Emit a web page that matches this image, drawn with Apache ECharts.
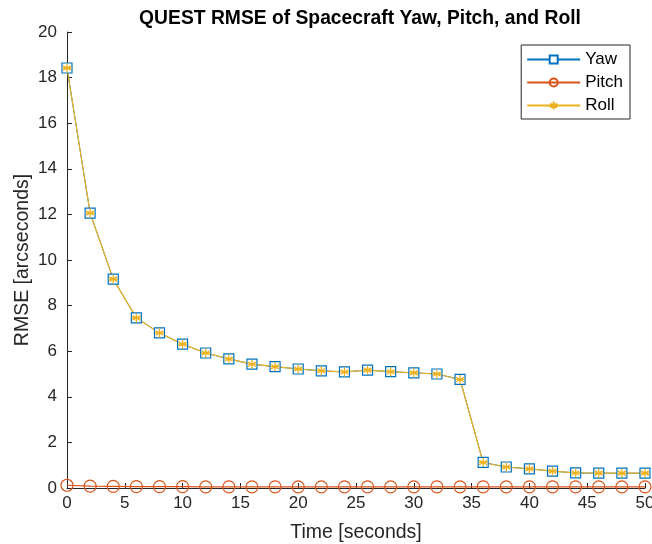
<!DOCTYPE html>
<html><head><meta charset="utf-8">
<script src="https://cdn.jsdelivr.net/npm/echarts@6/dist/echarts.min.js"></script>
<style>html,body{margin:0;padding:0;background:#fff}#c{width:652px;height:544px}</style>
</head><body><div id="c"></div>
<script>
const time = [0,2,4,6,8,10,12,14,16,18,20,22,24,26,28,30,32,34,36,38,40,42,44,46,48,50];
const yaw = [18.42,12.06,9.16,7.46,6.8,6.31,5.92,5.66,5.43,5.32,5.22,5.14,5.09,5.17,5.1,5.05,5.0,4.76,1.12,0.92,0.84,0.74,0.66,0.65,0.65,0.65];
const pitch = [0.12,0.08,0.07,0.06,0.06,0.06,0.05,0.05,0.05,0.05,0.05,0.05,0.05,0.05,0.05,0.05,0.05,0.05,0.05,0.05,0.05,0.05,0.05,0.05,0.05,0.05];
const roll = [18.42,12.06,9.16,7.46,6.8,6.31,5.92,5.66,5.43,5.32,5.22,5.14,5.09,5.17,5.1,5.05,5.0,4.76,1.12,0.92,0.84,0.74,0.66,0.65,0.65,0.65];
const xTicks = [0,5,10,15,20,25,30,35,40,45,50];
const yTicks = [0,2,4,6,8,10,12,14,16,18,20];
const names = ['Yaw','Pitch','Roll'];

const pair = (ys) => time.map((t,i)=>[t, ys[i]]);
const font = 'Liberation Sans, Arial, Helvetica, sans-serif';
const axisCol = '#262626';
const colors = ['#0072BD','#D95319','#EDB120'];
const asterisk = 'path://M0,-5L0,5M-4.33,-2.5L4.33,2.5M-4.33,2.5L4.33,-2.5M-5,0L5,0';

const chart = echarts.init(document.getElementById('c'), null, {renderer:'canvas'});
chart.setOption({
  animation:false,
  backgroundColor:'#fff',
  title:{text:'QUEST RMSE of Spacecraft Yaw, Pitch, and Roll', left:355, textAlign:'center', top:4,
    textStyle:{fontFamily:font, fontSize:19.3, fontWeight:'bold', color:'#000'}},
  grid:{left:67, right:7, top:32, bottom:56, outerBoundsMode:'none', containLabel:false},
  legend:{
    right:22, top:45, orient:'vertical', itemWidth:53, itemHeight:10, itemGap:6,
    padding:[6,7,5,5],
    borderColor:axisCol, borderWidth:1, backgroundColor:'#fff',
    textStyle:{fontFamily:font, fontSize:17, color:'#000'},
    data:names
  },
  xAxis:{type:'value', min:0, max:50, interval:5,
    name:'Time [seconds]', nameLocation:'middle', nameGap:35, nameMoveOverlap:false,
    nameTextStyle:{fontFamily:font, fontSize:19.5, color:axisCol},
    axisLine:{lineStyle:{color:axisCol}},
    axisTick:{inside:true, length:5, lineStyle:{color:axisCol}},
    axisLabel:{fontFamily:font, fontSize:17, color:axisCol, margin:7,
      formatter:(v)=> xTicks.includes(v) ? String(v) : ''},
    splitLine:{show:false}},
  yAxis:{type:'value', min:0, max:20, interval:2,
    name:'RMSE [arcseconds]', nameLocation:'middle', nameGap:34, nameMoveOverlap:false,
    nameTextStyle:{fontFamily:font, fontSize:19.5, color:axisCol},
    axisLine:{show:true, lineStyle:{color:axisCol}},
    axisTick:{show:true, inside:true, length:5, lineStyle:{color:axisCol}},
    axisLabel:{fontFamily:font, fontSize:17, color:axisCol, margin:10,
      formatter:(v)=> yTicks.includes(v) ? String(v) : ''},
    splitLine:{show:false}},
  series:[
    {name:names[0], type:'line', data:pair(yaw), symbol:'rect', symbolSize:10, showAllSymbol:true,
      lineStyle:{color:colors[0], width:1},
      itemStyle:{color:'#ffffff', borderColor:colors[0], borderWidth:1.2}},
    {name:names[1], type:'line', data:pair(pitch), symbol:'circle', symbolSize:12, showAllSymbol:true,
      lineStyle:{color:colors[1], width:1.2},
      itemStyle:{color:'rgba(255,255,255,0)', borderColor:colors[1], borderWidth:1.2}},
    {name:names[2], type:'line', data:pair(roll), symbol:asterisk, symbolSize:9, symbolKeepAspect:true, showAllSymbol:true,
      lineStyle:{color:colors[2], width:1.2},
      itemStyle:{color:'none', borderColor:colors[2], borderWidth:1.3}}
  ]
});
</script></body></html>
